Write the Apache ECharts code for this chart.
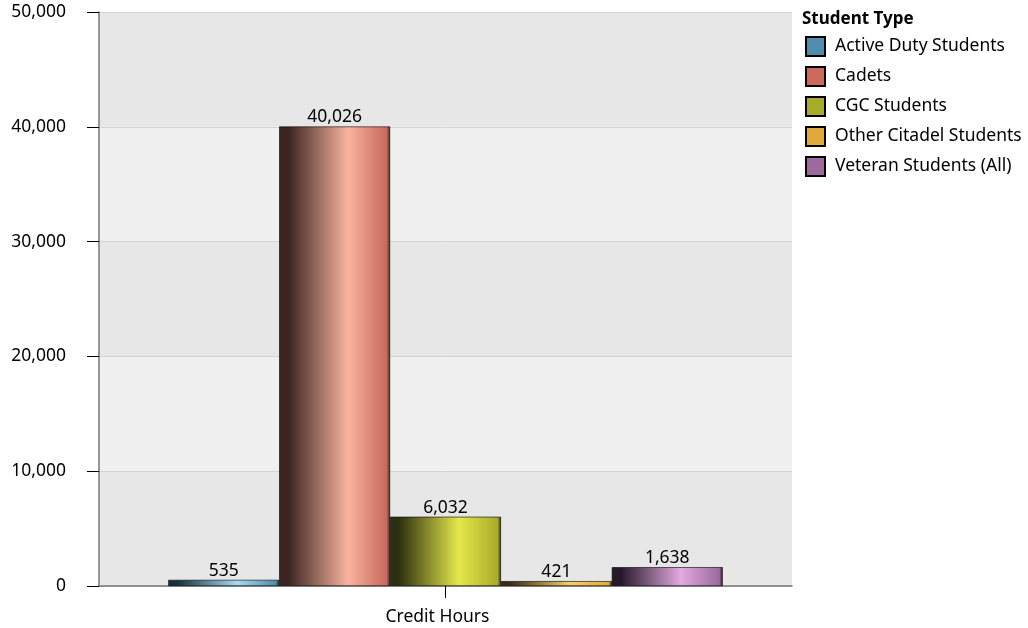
<!DOCTYPE html>
<html><head><meta charset="utf-8">
<script src="https://cdn.jsdelivr.net/npm/echarts@6/dist/echarts.min.js"></script>
<style>html,body{margin:0;padding:0;background:#fff}#c{width:1028px;height:628px}</style>
</head><body><div id="c"></div>
<script>
const categories = ["Credit Hours"];
const seriesNames = ["Active Duty Students","Cadets","CGC Students","Other Citadel Students","Veteran Students (All)"];
const activeDuty = [535];
const cadets = [40026];
const cgc = [6032];
const otherCitadel = [421];
const veteran = [1638];
const yTicks = [0,10000,20000,30000,40000,50000];

const values = [activeDuty, cadets, cgc, otherCitadel, veteran];
const palette = [
  {dark:'#17303e', light:'#a6dbf2', base:'#4f8daa'},
  {dark:'#3b2420', light:'#f9b4a0', base:'#c96a5b'},
  {dark:'#2c3010', light:'#e6e84a', base:'#a9ab2a'},
  {dark:'#3a2a10', light:'#f8d066', base:'#e2aa3c'},
  {dark:'#27182a', light:'#e2aae0', base:'#9c6a9c'}
];
const FONT = '"Noto Sans", sans-serif';
const FS = 17.5;

const series = seriesNames.map((n,i)=>({
  name:n, type:'bar', data: values[i], barGap:'0%', barCategoryGap:'20%',
  itemStyle:{
    color:{type:'linear',x:0,y:0,x2:1,y2:0,colorStops:[
      {offset:0,color:palette[i].dark},{offset:0.08,color:palette[i].dark},
      {offset:0.62,color:palette[i].light},{offset:0.97,color:palette[i].base},{offset:1,color:palette[i].dark}]},
    borderColor:'#000', borderWidth:0.6
  },
  label:{show:true, position:'top', distance:0, color:'#000', fontSize:FS, fontFamily:FONT,
    formatter:p=>p.value.toLocaleString('en-US')}
}));

const chart = echarts.init(document.getElementById('c'), null, {renderer:'canvas'});
chart.setOption({
  animation:false,
  backgroundColor:'#fff',
  title:{text:'Student Type', left:797, top:6, textStyle:{fontSize:17, fontWeight:'bold', fontFamily:FONT, color:'#000'}},
  legend:{orient:'vertical', left:800, top:31, itemWidth:19, itemHeight:19, itemGap:9,
    icon:'rect',
    textStyle:{fontSize:FS, fontFamily:FONT, color:'#000', lineHeight:19, padding:[0,0,0,5]},
    data: seriesNames.map((n,i)=>({name:n, itemStyle:{color:palette[i].base, borderColor:'#000', borderWidth:2}}))},
  grid:{left:99, right:236, top:12, bottom:42, containLabel:false},
  xAxis:{type:'category', data:categories,
    axisLine:{lineStyle:{color:'#777', width:1.5}},
    axisTick:{show:true, alignWithLabel:true, length:12, lineStyle:{color:'#000'}},
    axisLabel:{fontSize:FS, fontFamily:FONT, color:'#000', margin:22, padding:[0,16,0,0]}},
  yAxis:{type:'value', min:yTicks[0], max:yTicks[yTicks.length-1], interval:10000,
    axisLine:{show:true, lineStyle:{color:'#777', width:1.5}},
    axisTick:{show:true, length:12, lineStyle:{color:'#000'}},
    axisLabel:{fontSize:FS, fontFamily:FONT, color:'#000', margin:33,
      formatter:v=>v.toLocaleString('en-US')},
    splitLine:{show:true, lineStyle:{color:'#d4d4d4'}},
    splitArea:{show:true, areaStyle:{color:['#e7e7e7','#f0f0f0']}}},
  series: series
});
</script></body></html>
